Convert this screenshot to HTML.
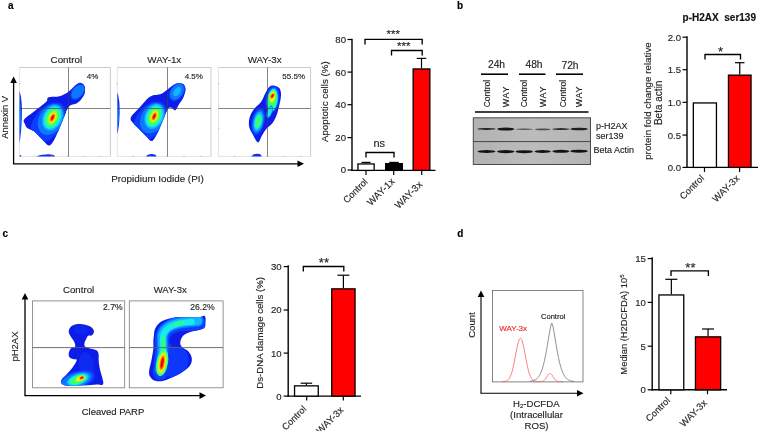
<!DOCTYPE html>
<html><head><meta charset="utf-8"><title>Figure</title>
<style>
html,body{margin:0;padding:0;background:#fff;}
body{width:758px;height:431px;overflow:hidden;font-family:"Liberation Sans",sans-serif;}
text{stroke-width:0.15px;}
svg{display:block;font-family:"Liberation Sans",sans-serif;will-change:transform;}
</style></head><body>
<svg width="758" height="431" viewBox="0 0 758 431">
<defs>
<clipPath id="c1"><path d="M24.35 119.23C26.06 117.08 31.41 113.67 35.04 110.77C38.68 107.88 43.95 104.09 46.18 101.86C48.41 99.63 46.18 98.34 48.41 97.41C50.63 96.48 56.2 97.22 59.54 96.29C62.88 95.37 65.67 93.81 68.45 91.84C71.24 89.87 74.13 85.97 76.25 84.49C78.36 83.01 79.74 82.56 81.15 82.93C82.56 83.3 84.15 84.86 84.71 86.72C85.27 88.57 85.27 91.73 84.49 94.07C83.71 96.41 81.59 99.08 80.03 100.75C78.47 102.42 76.69 103.35 75.13 104.09C73.57 104.83 71.98 104.39 70.68 105.2C69.38 106.02 68.64 106.5 67.34 108.99C66.04 111.48 64.37 116.49 62.88 120.12C61.4 123.76 59.91 127.47 58.43 130.82C56.95 134.16 55.57 137.72 53.98 140.17C52.38 142.62 50.89 145.7 48.85 145.51C46.81 145.33 44.21 141.43 41.73 139.06C39.24 136.68 36.34 133.12 33.93 131.26C31.52 129.4 28.77 129.18 27.25 127.92C25.73 126.66 25.28 125.14 24.8 123.69C24.32 122.24 22.65 121.39 24.35 119.23Z"/></clipPath>
<filter id="f2" x="-30%" y="-30%" width="160%" height="160%"><feGaussianBlur stdDeviation="0.65"/></filter>
<filter id="f3" x="-10%" y="-10%" width="120%" height="120%"><feGaussianBlur stdDeviation="0.35"/></filter>
<clipPath id="c4"><path d="M130.82 117.45C131.75 115.04 136.01 111.51 138.61 108.54C141.21 105.57 144.18 101.79 146.41 99.63C148.63 97.48 149.56 96.55 151.98 95.63C154.39 94.7 158.1 95.25 160.88 94.07C163.67 92.88 166.08 90.24 168.68 88.5C171.28 86.75 174.06 84.34 176.47 83.6C178.89 82.86 181.63 83.04 183.16 84.04C184.68 85.05 185.57 87.39 185.61 89.61C185.64 91.84 184.46 94.99 183.38 97.41C182.3 99.82 180.48 101.94 179.15 104.09C177.81 106.24 176.62 109.73 175.36 110.33C174.1 110.92 172.84 107.88 171.57 107.65C170.31 107.43 169.2 106.91 167.79 108.99C166.38 111.07 164.82 116.12 163.11 120.12C161.4 124.13 159.4 129.55 157.54 133.04C155.69 136.53 153.83 140.5 151.98 141.06C150.12 141.62 148.45 138.28 146.41 136.38C144.37 134.49 141.95 131.93 139.73 129.7C137.5 127.47 134.53 125.06 133.04 123.02C131.56 120.98 129.89 119.86 130.82 117.45Z"/></clipPath>
<filter id="f5" x="-30%" y="-30%" width="160%" height="160%"><feGaussianBlur stdDeviation="0.65"/></filter>
<filter id="f6" x="-10%" y="-10%" width="120%" height="120%"><feGaussianBlur stdDeviation="0.35"/></filter>
<clipPath id="c7"><path d="M273.02 85.6C274.76 85.71 277.92 86.46 279.26 88.05C280.59 89.65 281.07 92.14 281.04 95.18C281 98.22 279.78 102.98 279.03 106.32C278.29 109.66 277.7 112.4 276.58 115.22C275.47 118.05 274.02 121.02 272.35 123.24C270.68 125.47 268.27 126.58 266.56 128.59C264.85 130.59 263.52 132.97 262.11 135.27C260.7 137.57 259.58 142.4 258.1 142.4C256.61 142.4 254.68 137.87 253.2 135.27C251.71 132.67 249.78 129.78 249.19 126.81C248.6 123.84 248.82 120.42 249.63 117.45C250.45 114.48 252.23 111.51 254.09 108.99C255.95 106.46 258.91 104.91 260.77 102.31C262.63 99.71 263.89 95.89 265.22 93.4C266.56 90.91 267.49 88.68 268.79 87.39C270.09 86.09 271.28 85.49 273.02 85.6Z"/></clipPath>
<filter id="f8" x="-30%" y="-30%" width="160%" height="160%"><feGaussianBlur stdDeviation="0.6"/></filter>
<filter id="f9" x="-10%" y="-10%" width="120%" height="120%"><feGaussianBlur stdDeviation="0.35"/></filter>
<filter id="f10" x="-30%" y="-30%" width="160%" height="160%"><feGaussianBlur stdDeviation="0.4"/></filter>
<filter id="f11" x="-30%" y="-30%" width="160%" height="160%"><feGaussianBlur stdDeviation="0.4"/></filter>
<filter id="f12" x="-30%" y="-30%" width="160%" height="160%"><feGaussianBlur stdDeviation="0.4"/></filter>
<filter id="f13" x="-30%" y="-30%" width="160%" height="160%"><feGaussianBlur stdDeviation="0.4"/></filter>
<filter id="f14" x="-30%" y="-30%" width="160%" height="160%"><feGaussianBlur stdDeviation="0.4"/></filter>
<filter id="f15" x="-30%" y="-30%" width="160%" height="160%"><feGaussianBlur stdDeviation="0.4"/></filter>
<filter id="f16" x="-30%" y="-30%" width="160%" height="160%"><feGaussianBlur stdDeviation="0.4"/></filter>
<filter id="f17" x="-30%" y="-30%" width="160%" height="160%"><feGaussianBlur stdDeviation="0.4"/></filter>
<linearGradient id="g18" x1="0" x2="1" y1="0" y2="0"><stop offset="0" stop-color="#b2b2b2"/><stop offset="0.5" stop-color="#bcbcbc"/><stop offset="1" stop-color="#b4b4b4"/></linearGradient>
<filter id="f19" x="-20%" y="-150%" width="140%" height="400%"><feGaussianBlur stdDeviation="0.75 0.5"/></filter>
<clipPath id="c20"><path d="M68.71 331.69C68.71 330.02 69.55 327.94 70.88 326.68C72.22 325.43 74.22 324.45 76.73 324.18C79.23 323.9 83.41 324.45 85.92 325.01C88.42 325.57 90.43 326.4 91.76 327.52C93.1 328.63 93.91 330.39 93.94 331.69C93.96 333 92.88 334.67 91.93 335.37C90.98 336.07 89.23 335.23 88.26 335.87C87.28 336.51 86.72 337.96 86.08 339.21C85.44 340.46 84.55 342.13 84.41 343.39C84.27 344.64 84.16 345.84 85.25 346.73C86.33 347.62 89.15 348.18 90.93 348.73C92.71 349.29 94.69 349.29 95.94 350.07C97.19 350.85 97.97 351.46 98.45 353.41C98.92 355.36 98.5 358.98 98.78 361.76C99.06 364.55 99.37 366.47 100.12 370.12C100.87 373.76 103.85 381.25 103.29 383.65C102.73 386.04 100.09 384.21 96.78 384.48C93.46 384.76 88.42 385.12 83.41 385.32C78.4 385.51 70.38 385.99 66.71 385.65C63.03 385.32 62.14 384.37 61.36 383.31C60.58 382.26 61.14 380.81 62.03 379.31C62.92 377.8 64.95 376.24 66.71 374.29C68.46 372.34 70.88 369.98 72.55 367.61C74.22 365.24 76.59 361.49 76.73 360.09C76.87 358.7 74.56 359.68 73.39 359.26C72.22 358.84 70.49 358.56 69.71 357.59C68.93 356.61 68.52 354.94 68.71 353.41C68.91 351.88 69.82 349.51 70.88 348.4C71.94 347.29 74.5 347.84 75.06 346.73C75.62 345.62 74.92 343.39 74.22 341.72C73.53 340.05 71.8 338.38 70.88 336.71C69.96 335.04 68.71 333.36 68.71 331.69Z"/></clipPath>
<filter id="f21" x="-30%" y="-30%" width="160%" height="160%"><feGaussianBlur stdDeviation="0.6"/></filter>
<filter id="f22" x="-10%" y="-10%" width="120%" height="120%"><feGaussianBlur stdDeviation="0.35"/></filter>
<clipPath id="c23"><path d="M153.91 335.85C154.22 333.68 153.91 330.84 155.21 328.42C156.51 326.01 158.77 323.16 161.71 321.37C164.65 319.57 168.52 318.4 172.85 317.65C177.18 316.91 183.37 316.97 187.7 316.91C192.04 316.85 196.12 317.47 198.84 317.28C201.57 317.1 202.93 315.64 204.04 315.8C205.16 315.95 205.31 317.04 205.53 318.21C205.74 319.39 205.5 321.28 205.34 322.85C205.19 324.43 205.68 326.5 204.6 327.68C203.52 328.86 201.35 329.17 198.84 329.91C196.34 330.65 192.19 331.15 189.56 332.14C186.93 333.13 184.61 334.15 183.06 335.85C181.51 337.55 180.43 340.43 180.28 342.35C180.12 344.27 180.74 345.81 182.13 347.36C183.53 348.91 187.02 349.84 188.63 351.63C190.24 353.43 191.48 355.96 191.79 358.13C192.1 360.3 191.63 362.62 190.49 364.63C189.34 366.64 187.55 368.25 184.92 370.2C182.29 372.15 178.27 374.56 174.71 376.33C171.15 378.09 166.82 380.04 163.57 380.78C160.32 381.52 157.44 381.46 155.21 380.78C152.98 380.1 151.22 378.31 150.2 376.7C149.18 375.09 148.87 373.91 149.08 371.13C149.3 368.34 150.79 363.7 151.5 359.99C152.21 356.27 153.05 351.94 153.35 348.85C153.66 345.75 153.26 343.59 153.35 341.42C153.45 339.25 153.6 338.02 153.91 335.85Z"/></clipPath>
<filter id="f24" x="-30%" y="-30%" width="160%" height="160%"><feGaussianBlur stdDeviation="0.75"/></filter>
<filter id="f25" x="-10%" y="-10%" width="120%" height="120%"><feGaussianBlur stdDeviation="0.35"/></filter>
</defs>
<rect width="758" height="431" fill="#fff"/>
<text x="8" y="8.6" font-size="10" text-anchor="start" font-weight="bold" fill="#000" stroke="#000">a</text>
<path d="M19.6 67.5H110.4V156.5" fill="none" stroke="#b4b4b4" stroke-width="0.7"/>
<path d="M19.6 67.5V156.5H110.4" fill="none" stroke="#d4d4d4" stroke-width="0.6"/>
<path d="M117.3 67.5H211V156.5" fill="none" stroke="#b4b4b4" stroke-width="0.7"/>
<path d="M117.3 67.5V156.5H211" fill="none" stroke="#d4d4d4" stroke-width="0.6"/>
<path d="M218.4 67.5H310.6V156.5" fill="none" stroke="#b4b4b4" stroke-width="0.7"/>
<path d="M218.4 67.5V156.5H310.6" fill="none" stroke="#d4d4d4" stroke-width="0.6"/>
<text x="66.4" y="62.6" font-size="9.8" text-anchor="middle" font-weight="normal" fill="#262626" stroke="#262626">Control</text>
<text x="164.3" y="62.6" font-size="9.8" text-anchor="middle" font-weight="normal" fill="#262626" stroke="#262626">WAY-1x</text>
<text x="264.6" y="62.6" font-size="9.8" text-anchor="middle" font-weight="normal" fill="#262626" stroke="#262626">WAY-3x</text>
<path d="M24.35 119.23C26.06 117.08 31.41 113.67 35.04 110.77C38.68 107.88 43.95 104.09 46.18 101.86C48.41 99.63 46.18 98.34 48.41 97.41C50.63 96.48 56.2 97.22 59.54 96.29C62.88 95.37 65.67 93.81 68.45 91.84C71.24 89.87 74.13 85.97 76.25 84.49C78.36 83.01 79.74 82.56 81.15 82.93C82.56 83.3 84.15 84.86 84.71 86.72C85.27 88.57 85.27 91.73 84.49 94.07C83.71 96.41 81.59 99.08 80.03 100.75C78.47 102.42 76.69 103.35 75.13 104.09C73.57 104.83 71.98 104.39 70.68 105.2C69.38 106.02 68.64 106.5 67.34 108.99C66.04 111.48 64.37 116.49 62.88 120.12C61.4 123.76 59.91 127.47 58.43 130.82C56.95 134.16 55.57 137.72 53.98 140.17C52.38 142.62 50.89 145.7 48.85 145.51C46.81 145.33 44.21 141.43 41.73 139.06C39.24 136.68 36.34 133.12 33.93 131.26C31.52 129.4 28.77 129.18 27.25 127.92C25.73 126.66 25.28 125.14 24.8 123.69C24.32 122.24 22.65 121.39 24.35 119.23Z" fill="#0b1fe8" filter="url(#f3)"/>
<g clip-path="url(#c1)"><g filter="url(#f2)">
<ellipse cx="48" cy="122.5" rx="23" ry="14" fill="#0a3cff" transform="rotate(-52 48 122.5)"/>
<ellipse cx="51" cy="119.5" rx="16.38" ry="12.04" fill="#0a78ff" transform="rotate(-60 51 119.5)"/>
<ellipse cx="52.5" cy="117.7" rx="13.49" ry="9.71" fill="#12b4ff" transform="rotate(-65 52.5 117.7)"/>
<ellipse cx="52.5" cy="117.7" rx="11.59" ry="8.12" fill="#14ecec" transform="rotate(-65 52.5 117.7)"/>
<ellipse cx="52.5" cy="117.7" rx="9.88" ry="6.67" fill="#30ff78" transform="rotate(-65 52.5 117.7)"/>
<ellipse cx="52.5" cy="117.7" rx="7.6" ry="4.79" fill="#8cff30" transform="rotate(-65 52.5 117.7)"/>
<ellipse cx="52.5" cy="117.7" rx="5.41" ry="3.04" fill="#fff000" transform="rotate(-65 52.5 117.7)"/>
<ellipse cx="52.5" cy="117.7" rx="4.28" ry="2.17" fill="#ff9000" transform="rotate(-65 52.5 117.7)"/>
<ellipse cx="52.5" cy="117.7" rx="3.14" ry="1.42" fill="#ff2000" transform="rotate(-65 52.5 117.7)"/>
<ellipse cx="52.5" cy="117.7" rx="1.71" ry="0.73" fill="#e00000" transform="rotate(-65 52.5 117.7)"/>
<ellipse cx="77.81" cy="91.84" rx="9.5" ry="6" fill="#0a3cff" transform="rotate(-50 77.81 91.84)"/>
<ellipse cx="77.81" cy="91.84" rx="7.98" ry="4.98" fill="#0a78ff" transform="rotate(-50 77.81 91.84)"/>
</g></g>
<path d="M130.82 117.45C131.75 115.04 136.01 111.51 138.61 108.54C141.21 105.57 144.18 101.79 146.41 99.63C148.63 97.48 149.56 96.55 151.98 95.63C154.39 94.7 158.1 95.25 160.88 94.07C163.67 92.88 166.08 90.24 168.68 88.5C171.28 86.75 174.06 84.34 176.47 83.6C178.89 82.86 181.63 83.04 183.16 84.04C184.68 85.05 185.57 87.39 185.61 89.61C185.64 91.84 184.46 94.99 183.38 97.41C182.3 99.82 180.48 101.94 179.15 104.09C177.81 106.24 176.62 109.73 175.36 110.33C174.1 110.92 172.84 107.88 171.57 107.65C170.31 107.43 169.2 106.91 167.79 108.99C166.38 111.07 164.82 116.12 163.11 120.12C161.4 124.13 159.4 129.55 157.54 133.04C155.69 136.53 153.83 140.5 151.98 141.06C150.12 141.62 148.45 138.28 146.41 136.38C144.37 134.49 141.95 131.93 139.73 129.7C137.5 127.47 134.53 125.06 133.04 123.02C131.56 120.98 129.89 119.86 130.82 117.45Z" fill="#0b1fe8" filter="url(#f6)"/>
<g clip-path="url(#c4)"><g filter="url(#f5)">
<ellipse cx="150" cy="121" rx="22" ry="14" fill="#0a3cff" transform="rotate(-54 150 121)"/>
<ellipse cx="152.7" cy="118.2" rx="15.96" ry="11.62" fill="#0a78ff" transform="rotate(-62 152.7 118.2)"/>
<ellipse cx="154.2" cy="116.4" rx="13.13" ry="9.38" fill="#12b4ff" transform="rotate(-67 154.2 116.4)"/>
<ellipse cx="154.2" cy="116.4" rx="11.29" ry="7.84" fill="#14ecec" transform="rotate(-67 154.2 116.4)"/>
<ellipse cx="154.2" cy="116.4" rx="9.62" ry="6.44" fill="#30ff78" transform="rotate(-67 154.2 116.4)"/>
<ellipse cx="154.2" cy="116.4" rx="7.4" ry="4.62" fill="#8cff30" transform="rotate(-67 154.2 116.4)"/>
<ellipse cx="154.2" cy="116.4" rx="5.27" ry="2.94" fill="#fff000" transform="rotate(-67 154.2 116.4)"/>
<ellipse cx="154.2" cy="116.4" rx="4.16" ry="2.1" fill="#ff9000" transform="rotate(-67 154.2 116.4)"/>
<ellipse cx="154.2" cy="116.4" rx="3.05" ry="1.37" fill="#ff2000" transform="rotate(-67 154.2 116.4)"/>
<ellipse cx="154.2" cy="116.4" rx="1.67" ry="0.7" fill="#e00000" transform="rotate(-67 154.2 116.4)"/>
<ellipse cx="176.92" cy="91.84" rx="10.5" ry="7" fill="#0a3cff" transform="rotate(-55 176.92 91.84)"/>
<ellipse cx="176.92" cy="91.84" rx="8.82" ry="5.81" fill="#0a78ff" transform="rotate(-55 176.92 91.84)"/>
<ellipse cx="177.14" cy="91.62" rx="5.32" ry="3.08" fill="#12b4ff" transform="rotate(-55 177.14 91.62)"/>
</g></g>
<path d="M273.02 85.6C274.76 85.71 277.92 86.46 279.26 88.05C280.59 89.65 281.07 92.14 281.04 95.18C281 98.22 279.78 102.98 279.03 106.32C278.29 109.66 277.7 112.4 276.58 115.22C275.47 118.05 274.02 121.02 272.35 123.24C270.68 125.47 268.27 126.58 266.56 128.59C264.85 130.59 263.52 132.97 262.11 135.27C260.7 137.57 259.58 142.4 258.1 142.4C256.61 142.4 254.68 137.87 253.2 135.27C251.71 132.67 249.78 129.78 249.19 126.81C248.6 123.84 248.82 120.42 249.63 117.45C250.45 114.48 252.23 111.51 254.09 108.99C255.95 106.46 258.91 104.91 260.77 102.31C262.63 99.71 263.89 95.89 265.22 93.4C266.56 90.91 267.49 88.68 268.79 87.39C270.09 86.09 271.28 85.49 273.02 85.6Z" fill="#0b1fe8" filter="url(#f9)"/>
<g clip-path="url(#c7)"><g filter="url(#f8)">
<ellipse cx="272.5" cy="99.5" rx="14" ry="7" fill="#0a3cff" transform="rotate(-82 272.5 99.5)"/>
<ellipse cx="272.5" cy="99.5" rx="11.76" ry="5.81" fill="#0a78ff" transform="rotate(-82 272.5 99.5)"/>
<ellipse cx="272.5" cy="99.5" rx="9.94" ry="4.69" fill="#12b4ff" transform="rotate(-82 272.5 99.5)"/>
<ellipse cx="272.3" cy="100.3" rx="11.59" ry="5.32" fill="#14ecec" transform="rotate(-82 272.3 100.3)"/>
<ellipse cx="272.3" cy="100.3" rx="9.88" ry="4.37" fill="#30ff78" transform="rotate(-82 272.3 100.3)"/>
<ellipse cx="272.5" cy="96.8" rx="6.4" ry="3.47" fill="#8cff30" transform="rotate(-80 272.5 96.8)"/>
<ellipse cx="272.5" cy="96.8" rx="4.56" ry="2.21" fill="#fff000" transform="rotate(-80 272.5 96.8)"/>
<ellipse cx="272.4" cy="95.9" rx="2.93" ry="1.8" fill="#ff9000" transform="rotate(-60 272.4 95.9)"/>
<ellipse cx="272.4" cy="95.9" rx="2.15" ry="1.18" fill="#ff2000" transform="rotate(-60 272.4 95.9)"/>
<ellipse cx="272.4" cy="95.9" rx="1.17" ry="0.6" fill="#e00000" transform="rotate(-60 272.4 95.9)"/>
<ellipse cx="258.2" cy="121.5" rx="14" ry="6.5" fill="#0a3cff" transform="rotate(-78 258.2 121.5)"/>
<ellipse cx="258.2" cy="121.5" rx="11.76" ry="5.39" fill="#0a78ff" transform="rotate(-78 258.2 121.5)"/>
<ellipse cx="258.2" cy="121.5" rx="9.94" ry="4.36" fill="#12b4ff" transform="rotate(-78 258.2 121.5)"/>
<ellipse cx="258.2" cy="121.5" rx="7.62" ry="3.53" fill="#14ecec" transform="rotate(-78 258.2 121.5)"/>
<ellipse cx="258.2" cy="121.5" rx="6.5" ry="2.9" fill="#30ff78" transform="rotate(-78 258.2 121.5)"/>
<ellipse cx="269.5" cy="112" rx="6.72" ry="2.66" fill="#0a78ff" transform="rotate(-72 269.5 112)"/>
<ellipse cx="269.5" cy="112" rx="5.68" ry="2.14" fill="#12b4ff" transform="rotate(-72 269.5 112)"/>
<ellipse cx="269.5" cy="112" rx="4.88" ry="1.79" fill="#14ecec" transform="rotate(-72 269.5 112)"/>
</g></g>
<path d="M19.5 90.5Q22.4 100 21.9 116T19.5 143.5Z" fill="#1030f0" filter="url(#f10)"/>
<path d="M19.5 100Q20.9 108 20.7 118T19.5 134Z" fill="#20a0ff" filter="url(#f11)"/>
<path d="M19.6 155.2h1.6v1.3h-1.6Z" fill="#1030f0" filter="url(#f12)"/>
<path d="M117.3 92Q120.1 100 119.6 114T117.3 134Z" fill="#1030f0" filter="url(#f13)"/>
<path d="M117.3 100Q118.7 108 118.5 116T117.3 128Z" fill="#20a0ff" filter="url(#f14)"/>
<path d="M36.5 156.6Q38 154.8 46 154.4T55 156.6Z" fill="#1030f0" filter="url(#f15)"/>
<path d="M146 156.6Q147 154.2 151.5 154T156.5 156.6Z" fill="#1030f0" filter="url(#f16)"/>
<path d="M251.5 156.6Q252.5 154 257 153.8T261.5 156.6Z" fill="#1030f0" filter="url(#f17)"/>
<line x1="19" y1="83.6" x2="20.5" y2="83.6" stroke="#aaa" stroke-width="0.6"/>
<line x1="19" y1="105.9" x2="20.5" y2="105.9" stroke="#aaa" stroke-width="0.6"/>
<line x1="19" y1="128.2" x2="20.5" y2="128.2" stroke="#aaa" stroke-width="0.6"/>
<line x1="35.25" y1="156.5" x2="35.25" y2="155.3" stroke="#aaa" stroke-width="0.6"/>
<line x1="51.5" y1="156.5" x2="51.5" y2="155.3" stroke="#aaa" stroke-width="0.6"/>
<line x1="67.75" y1="156.5" x2="67.75" y2="155.3" stroke="#aaa" stroke-width="0.6"/>
<line x1="84" y1="156.5" x2="84" y2="155.3" stroke="#aaa" stroke-width="0.6"/>
<line x1="100.25" y1="156.5" x2="100.25" y2="155.3" stroke="#aaa" stroke-width="0.6"/>
<line x1="116.5" y1="83.6" x2="118" y2="83.6" stroke="#aaa" stroke-width="0.6"/>
<line x1="116.5" y1="105.9" x2="118" y2="105.9" stroke="#aaa" stroke-width="0.6"/>
<line x1="116.5" y1="128.2" x2="118" y2="128.2" stroke="#aaa" stroke-width="0.6"/>
<line x1="133.38" y1="156.5" x2="133.38" y2="155.3" stroke="#aaa" stroke-width="0.6"/>
<line x1="150.25" y1="156.5" x2="150.25" y2="155.3" stroke="#aaa" stroke-width="0.6"/>
<line x1="167.12" y1="156.5" x2="167.12" y2="155.3" stroke="#aaa" stroke-width="0.6"/>
<line x1="184" y1="156.5" x2="184" y2="155.3" stroke="#aaa" stroke-width="0.6"/>
<line x1="200.88" y1="156.5" x2="200.88" y2="155.3" stroke="#aaa" stroke-width="0.6"/>
<line x1="218" y1="83.6" x2="219.5" y2="83.6" stroke="#aaa" stroke-width="0.6"/>
<line x1="218" y1="105.9" x2="219.5" y2="105.9" stroke="#aaa" stroke-width="0.6"/>
<line x1="218" y1="128.2" x2="219.5" y2="128.2" stroke="#aaa" stroke-width="0.6"/>
<line x1="234.52" y1="156.5" x2="234.52" y2="155.3" stroke="#aaa" stroke-width="0.6"/>
<line x1="251.04" y1="156.5" x2="251.04" y2="155.3" stroke="#aaa" stroke-width="0.6"/>
<line x1="267.55" y1="156.5" x2="267.55" y2="155.3" stroke="#aaa" stroke-width="0.6"/>
<line x1="284.07" y1="156.5" x2="284.07" y2="155.3" stroke="#aaa" stroke-width="0.6"/>
<line x1="300.59" y1="156.5" x2="300.59" y2="155.3" stroke="#aaa" stroke-width="0.6"/>
<line x1="68.5" y1="67.5" x2="68.5" y2="156.5" stroke="#404040" stroke-width="0.65"/>
<line x1="19.6" y1="108.5" x2="110.4" y2="108.5" stroke="#404040" stroke-width="0.65"/>
<line x1="167.5" y1="67.5" x2="167.5" y2="156.5" stroke="#404040" stroke-width="0.65"/>
<line x1="117.3" y1="108.5" x2="211" y2="108.5" stroke="#404040" stroke-width="0.65"/>
<line x1="267.5" y1="67.5" x2="267.5" y2="156.5" stroke="#404040" stroke-width="0.65"/>
<line x1="218.4" y1="108.5" x2="310.6" y2="108.5" stroke="#404040" stroke-width="0.65"/>
<text x="98.4" y="79" font-size="8" text-anchor="end" font-weight="normal" fill="#262626" stroke="#262626">4%</text>
<text x="202.9" y="79" font-size="8" text-anchor="end" font-weight="normal" fill="#262626" stroke="#262626">4.5%</text>
<text x="305" y="79" font-size="8" text-anchor="end" font-weight="normal" fill="#262626" stroke="#262626">55.5%</text>
<line x1="13.6" y1="163.9" x2="13.6" y2="80.5" stroke="#000" stroke-width="1.3"/>
<path d="M10.3 83L13.6 76.5L16.9 83Z" fill="#000" stroke="none" stroke-width="1"/>
<line x1="13" y1="163.8" x2="300" y2="163.8" stroke="#000" stroke-width="1.3"/>
<path d="M297.5 160.5L304 163.8L297.5 167.1Z" fill="#000" stroke="none" stroke-width="1"/>
<text x="7.7" y="117.3" font-size="9.4" text-anchor="middle" font-weight="normal" fill="#262626" stroke="#262626" transform="rotate(-90 7.7 117.3)">Annexin V</text>
<text x="157.5" y="181.9" font-size="9.85" text-anchor="middle" font-weight="normal" fill="#262626" stroke="#262626">Propidium Iodide (PI)</text>
<line x1="352" y1="38.8" x2="352" y2="171.1" stroke="#000" stroke-width="1.4"/>
<line x1="351.3" y1="170.4" x2="435.5" y2="170.4" stroke="#000" stroke-width="1.4"/>
<line x1="347.5" y1="170" x2="352" y2="170" stroke="#000" stroke-width="1.2"/>
<text x="346" y="173.4" font-size="9.6" text-anchor="end" font-weight="normal" fill="#262626" stroke="#262626">0</text>
<line x1="347.5" y1="137.6" x2="352" y2="137.6" stroke="#000" stroke-width="1.2"/>
<text x="346" y="141" font-size="9.6" text-anchor="end" font-weight="normal" fill="#262626" stroke="#262626">20</text>
<line x1="347.5" y1="104.7" x2="352" y2="104.7" stroke="#000" stroke-width="1.2"/>
<text x="346" y="108.1" font-size="9.6" text-anchor="end" font-weight="normal" fill="#262626" stroke="#262626">40</text>
<line x1="347.5" y1="72.1" x2="352" y2="72.1" stroke="#000" stroke-width="1.2"/>
<text x="346" y="75.5" font-size="9.6" text-anchor="end" font-weight="normal" fill="#262626" stroke="#262626">60</text>
<line x1="347.5" y1="39.5" x2="352" y2="39.5" stroke="#000" stroke-width="1.2"/>
<text x="346" y="42.9" font-size="9.6" text-anchor="end" font-weight="normal" fill="#262626" stroke="#262626">80</text>
<line x1="366.05" y1="163.3" x2="366.05" y2="162.4" stroke="#000" stroke-width="1.2"/>
<line x1="361.55" y1="162.4" x2="370.55" y2="162.4" stroke="#000" stroke-width="1.2"/>
<rect x="357.95" y="163.95" width="16.2" height="6.45" fill="#fff" stroke="#000" stroke-width="1.3"/>
<line x1="394" y1="163" x2="394" y2="162.4" stroke="#000" stroke-width="1.2"/>
<line x1="389.25" y1="162.4" x2="398.75" y2="162.4" stroke="#000" stroke-width="1.2"/>
<rect x="385.65" y="163.65" width="16.7" height="6.75" fill="#000" stroke="#000" stroke-width="1.3"/>
<line x1="421.5" y1="68.3" x2="421.5" y2="58.4" stroke="#000" stroke-width="1.2"/>
<line x1="416.75" y1="58.4" x2="426.25" y2="58.4" stroke="#000" stroke-width="1.2"/>
<rect x="413.15" y="68.95" width="16.7" height="101.45" fill="#ff0000" stroke="#000" stroke-width="1.3"/>
<line x1="366" y1="170.4" x2="366" y2="174.9" stroke="#000" stroke-width="1.2"/>
<line x1="393.7" y1="170.4" x2="393.7" y2="174.9" stroke="#000" stroke-width="1.2"/>
<line x1="421.7" y1="170.4" x2="421.7" y2="174.9" stroke="#000" stroke-width="1.2"/>
<path d="M365 44.4V39.4H422.2V44.4" fill="none" stroke="#000" stroke-width="1.35"/>
<path d="M391.5 55.5V50.5H422.2V55.5" fill="none" stroke="#000" stroke-width="1.35"/>
<path d="M366 157.5V152.5H394V157.5" fill="none" stroke="#000" stroke-width="1.35"/>
<text x="393.2" y="38.2" font-size="11.5" text-anchor="middle" font-weight="normal" fill="#262626" stroke="#262626">***</text>
<text x="403.7" y="50" font-size="11.5" text-anchor="middle" font-weight="normal" fill="#262626" stroke="#262626">***</text>
<text x="379.3" y="147" font-size="11" text-anchor="middle" font-weight="normal" fill="#262626" stroke="#262626">ns</text>
<text x="368.3" y="182.4" font-size="9.4" text-anchor="end" font-weight="normal" fill="#262626" stroke="#262626" transform="rotate(-45 368.3 182.4)">Control</text>
<text x="395.3" y="182" font-size="9.7" text-anchor="end" font-weight="normal" fill="#262626" stroke="#262626" transform="rotate(-45 395.3 182)" letter-spacing="0.12">WAY-1x</text>
<text x="423" y="185" font-size="9.7" text-anchor="end" font-weight="normal" fill="#262626" stroke="#262626" transform="rotate(-45 423 185)" letter-spacing="0.12">WAY-3x</text>
<text x="328" y="101.7" font-size="9.75" text-anchor="middle" font-weight="normal" fill="#262626" stroke="#262626" transform="rotate(-90 328 101.7)">Apoptotic cells (%)</text>
<text x="457" y="8.5" font-size="10" text-anchor="start" font-weight="bold" fill="#000" stroke="#000">b</text>
<text x="496.5" y="67.7" font-size="10.3" text-anchor="middle" font-weight="normal" fill="#262626" stroke="#262626">24h</text>
<line x1="481" y1="74.2" x2="508" y2="74.2" stroke="#000" stroke-width="1.55"/>
<text x="534" y="67.7" font-size="10.3" text-anchor="middle" font-weight="normal" fill="#262626" stroke="#262626">48h</text>
<line x1="519" y1="74.2" x2="545.5" y2="74.2" stroke="#000" stroke-width="1.55"/>
<text x="570" y="68.6" font-size="10.3" text-anchor="middle" font-weight="normal" fill="#262626" stroke="#262626">72h</text>
<line x1="556" y1="74.2" x2="583" y2="74.2" stroke="#000" stroke-width="1.55"/>
<text x="490.2" y="107.3" font-size="8.5" text-anchor="start" font-weight="normal" fill="#262626" stroke="#262626" transform="rotate(-90 490.2 107.3)">Control</text>
<text x="509.2" y="107.3" font-size="9" text-anchor="start" font-weight="normal" fill="#262626" stroke="#262626" transform="rotate(-90 509.2 107.3)" letter-spacing="0.7">WAY</text>
<text x="527" y="107.3" font-size="8.5" text-anchor="start" font-weight="normal" fill="#262626" stroke="#262626" transform="rotate(-90 527 107.3)">Control</text>
<text x="546.2" y="107.3" font-size="9" text-anchor="start" font-weight="normal" fill="#262626" stroke="#262626" transform="rotate(-90 546.2 107.3)" letter-spacing="0.7">WAY</text>
<text x="566" y="107.3" font-size="8.5" text-anchor="start" font-weight="normal" fill="#262626" stroke="#262626" transform="rotate(-90 566 107.3)">Control</text>
<text x="581.8" y="107.3" font-size="9" text-anchor="start" font-weight="normal" fill="#262626" stroke="#262626" transform="rotate(-90 581.8 107.3)" letter-spacing="0.7">WAY</text>
<line x1="475" y1="112" x2="588.5" y2="112" stroke="#000" stroke-width="1.5"/>
<rect x="473.3" y="117.8" width="117.2" height="23.8" fill="url(#g18)" stroke="#4a4a4a" stroke-width="1"/>
<rect x="473.3" y="141.6" width="117.2" height="22.9" fill="url(#g18)" stroke="#4a4a4a" stroke-width="1"/>
<g filter="url(#f19)">
<ellipse cx="486.5" cy="128.9" rx="9" ry="1" fill="#141414" opacity="0.9"/>
<ellipse cx="505.75" cy="129.1" rx="8.75" ry="1.5" fill="#141414" opacity="1.0"/>
<ellipse cx="524.25" cy="129.2" rx="8.75" ry="0.7" fill="#141414" opacity="0.55"/>
<ellipse cx="542.65" cy="129.3" rx="8.15" ry="0.9" fill="#141414" opacity="0.65"/>
<ellipse cx="560.9" cy="129.1" rx="8.6" ry="1" fill="#141414" opacity="0.85"/>
<ellipse cx="579.05" cy="129" rx="8.75" ry="1.25" fill="#141414" opacity="0.95"/>
<ellipse cx="486.5" cy="151.5" rx="9" ry="1.55" fill="#0c0c0c" opacity="0.97"/>
<ellipse cx="505.75" cy="151.6" rx="8.75" ry="1.55" fill="#0c0c0c" opacity="0.97"/>
<ellipse cx="524.25" cy="151.7" rx="8.75" ry="1.55" fill="#0c0c0c" opacity="0.97"/>
<ellipse cx="542.65" cy="151.5" rx="8.15" ry="1.55" fill="#0c0c0c" opacity="0.97"/>
<ellipse cx="560.9" cy="151.3" rx="8.6" ry="1.55" fill="#0c0c0c" opacity="0.97"/>
<ellipse cx="579.05" cy="151.2" rx="8.75" ry="1.55" fill="#0c0c0c" opacity="0.97"/>
</g>
<text x="596" y="128.8" font-size="9" text-anchor="start" font-weight="normal" fill="#262626" stroke="#262626">p-H2AX</text>
<text x="596" y="138.6" font-size="9" text-anchor="start" font-weight="normal" fill="#262626" stroke="#262626">ser139</text>
<text x="593.5" y="153" font-size="9" text-anchor="start" font-weight="normal" fill="#262626" stroke="#262626">Beta Actin</text>
<text x="719.3" y="20.6" font-size="10" text-anchor="middle" font-weight="bold" fill="#111" stroke="#111">p-H2AX&#160;&#160;ser139</text>
<line x1="687" y1="36.3" x2="687" y2="168.1" stroke="#000" stroke-width="1.4"/>
<line x1="686.3" y1="167.4" x2="758" y2="167.4" stroke="#000" stroke-width="1.4"/>
<line x1="682.5" y1="167.4" x2="687" y2="167.4" stroke="#000" stroke-width="1.2"/>
<text x="681" y="170.8" font-size="9.6" text-anchor="end" font-weight="normal" fill="#262626" stroke="#262626">0.0</text>
<line x1="682.5" y1="135.1" x2="687" y2="135.1" stroke="#000" stroke-width="1.2"/>
<text x="681" y="138.5" font-size="9.6" text-anchor="end" font-weight="normal" fill="#262626" stroke="#262626">0.5</text>
<line x1="682.5" y1="102.3" x2="687" y2="102.3" stroke="#000" stroke-width="1.2"/>
<text x="681" y="105.7" font-size="9.6" text-anchor="end" font-weight="normal" fill="#262626" stroke="#262626">1.0</text>
<line x1="682.5" y1="69.7" x2="687" y2="69.7" stroke="#000" stroke-width="1.2"/>
<text x="681" y="73.1" font-size="9.6" text-anchor="end" font-weight="normal" fill="#262626" stroke="#262626">1.5</text>
<line x1="682.5" y1="37.2" x2="687" y2="37.2" stroke="#000" stroke-width="1.2"/>
<text x="681" y="40.6" font-size="9.6" text-anchor="end" font-weight="normal" fill="#262626" stroke="#262626">2.0</text>
<rect x="693.35" y="102.95" width="23.1" height="64.45" fill="#fff" stroke="#000" stroke-width="1.3"/>
<line x1="739.75" y1="74.5" x2="739.75" y2="62.7" stroke="#000" stroke-width="1.2"/>
<line x1="735" y1="62.7" x2="744.5" y2="62.7" stroke="#000" stroke-width="1.2"/>
<rect x="728.45" y="75.15" width="22.6" height="92.25" fill="#ff0000" stroke="#000" stroke-width="1.3"/>
<line x1="704.5" y1="167.4" x2="704.5" y2="171.9" stroke="#000" stroke-width="1.2"/>
<line x1="739.6" y1="167.4" x2="739.6" y2="171.9" stroke="#000" stroke-width="1.2"/>
<path d="M705 59.5V54.5H740.5V59.5" fill="none" stroke="#000" stroke-width="1.35"/>
<text x="720.6" y="55.8" font-size="13" text-anchor="middle" font-weight="normal" fill="#262626" stroke="#262626">*</text>
<text x="704.7" y="178.8" font-size="9.3" text-anchor="end" font-weight="normal" fill="#262626" stroke="#262626" transform="rotate(-45 704.7 178.8)">Control</text>
<text x="740.2" y="178.8" font-size="9.6" text-anchor="end" font-weight="normal" fill="#262626" stroke="#262626" transform="rotate(-45 740.2 178.8)" letter-spacing="0.12">WAY-3x</text>
<text x="651.3" y="101" font-size="9.8" text-anchor="middle" font-weight="normal" fill="#262626" stroke="#262626" transform="rotate(-90 651.3 101)">protein fold change relative</text>
<text x="662" y="102.8" font-size="10" text-anchor="middle" font-weight="normal" fill="#262626" stroke="#262626" transform="rotate(-90 662 102.8)">Beta actin</text>
<text x="2.5" y="236.9" font-size="10" text-anchor="start" font-weight="bold" fill="#000" stroke="#000">c</text>
<text x="78.6" y="293" font-size="9.7" text-anchor="middle" font-weight="normal" fill="#262626" stroke="#262626">Control</text>
<text x="170.2" y="293" font-size="9.55" text-anchor="middle" font-weight="normal" fill="#262626" stroke="#262626">WAY-3x</text>
<rect x="32.6" y="300.9" width="92.1" height="86.9" fill="none" stroke="#7a7a7a" stroke-width="0.8"/>
<rect x="129.3" y="300.9" width="93.8" height="86.9" fill="none" stroke="#7a7a7a" stroke-width="0.8"/>
<path d="M68.71 331.69C68.71 330.02 69.55 327.94 70.88 326.68C72.22 325.43 74.22 324.45 76.73 324.18C79.23 323.9 83.41 324.45 85.92 325.01C88.42 325.57 90.43 326.4 91.76 327.52C93.1 328.63 93.91 330.39 93.94 331.69C93.96 333 92.88 334.67 91.93 335.37C90.98 336.07 89.23 335.23 88.26 335.87C87.28 336.51 86.72 337.96 86.08 339.21C85.44 340.46 84.55 342.13 84.41 343.39C84.27 344.64 84.16 345.84 85.25 346.73C86.33 347.62 89.15 348.18 90.93 348.73C92.71 349.29 94.69 349.29 95.94 350.07C97.19 350.85 97.97 351.46 98.45 353.41C98.92 355.36 98.5 358.98 98.78 361.76C99.06 364.55 99.37 366.47 100.12 370.12C100.87 373.76 103.85 381.25 103.29 383.65C102.73 386.04 100.09 384.21 96.78 384.48C93.46 384.76 88.42 385.12 83.41 385.32C78.4 385.51 70.38 385.99 66.71 385.65C63.03 385.32 62.14 384.37 61.36 383.31C60.58 382.26 61.14 380.81 62.03 379.31C62.92 377.8 64.95 376.24 66.71 374.29C68.46 372.34 70.88 369.98 72.55 367.61C74.22 365.24 76.59 361.49 76.73 360.09C76.87 358.7 74.56 359.68 73.39 359.26C72.22 358.84 70.49 358.56 69.71 357.59C68.93 356.61 68.52 354.94 68.71 353.41C68.91 351.88 69.82 349.51 70.88 348.4C71.94 347.29 74.5 347.84 75.06 346.73C75.62 345.62 74.92 343.39 74.22 341.72C73.53 340.05 71.8 338.38 70.88 336.71C69.96 335.04 68.71 333.36 68.71 331.69Z" fill="#0b1fe8" filter="url(#f22)"/>
<g clip-path="url(#c20)"><g filter="url(#f21)">
<ellipse cx="86.5" cy="366" rx="7.5" ry="14" fill="#0a2cf0" transform="rotate(-8 86.5 366)"/>
<ellipse cx="81" cy="330" rx="7" ry="4.5" fill="#0a28ee"/>
<ellipse cx="76.5" cy="380.3" rx="19" ry="9" fill="#0a3cff" transform="rotate(-18 76.5 380.3)"/>
<ellipse cx="76.5" cy="380.3" rx="15.96" ry="7.47" fill="#0a78ff" transform="rotate(-18 76.5 380.3)"/>
<ellipse cx="78" cy="379.6" rx="11.71" ry="5.7" fill="#12b4ff" transform="rotate(-20 78 379.6)"/>
<ellipse cx="78" cy="379.6" rx="10.06" ry="4.76" fill="#14ecec" transform="rotate(-20 78 379.6)"/>
<ellipse cx="78" cy="379.6" rx="8.58" ry="3.91" fill="#30ff78" transform="rotate(-20 78 379.6)"/>
<ellipse cx="80.3" cy="378.6" rx="5.6" ry="2.97" fill="#8cff30" transform="rotate(-22 80.3 378.6)"/>
<ellipse cx="80.3" cy="378.6" rx="3.99" ry="1.89" fill="#fff000" transform="rotate(-22 80.3 378.6)"/>
<ellipse cx="81.7" cy="377.8" rx="2.59" ry="1.57" fill="#ff9000" transform="rotate(-25 81.7 377.8)"/>
<ellipse cx="81.7" cy="377.8" rx="1.9" ry="1.03" fill="#ff2000" transform="rotate(-25 81.7 377.8)"/>
<ellipse cx="81.7" cy="377.8" rx="1.03" ry="0.53" fill="#e00000" transform="rotate(-25 81.7 377.8)"/>
</g></g>
<path d="M153.91 335.85C154.22 333.68 153.91 330.84 155.21 328.42C156.51 326.01 158.77 323.16 161.71 321.37C164.65 319.57 168.52 318.4 172.85 317.65C177.18 316.91 183.37 316.97 187.7 316.91C192.04 316.85 196.12 317.47 198.84 317.28C201.57 317.1 202.93 315.64 204.04 315.8C205.16 315.95 205.31 317.04 205.53 318.21C205.74 319.39 205.5 321.28 205.34 322.85C205.19 324.43 205.68 326.5 204.6 327.68C203.52 328.86 201.35 329.17 198.84 329.91C196.34 330.65 192.19 331.15 189.56 332.14C186.93 333.13 184.61 334.15 183.06 335.85C181.51 337.55 180.43 340.43 180.28 342.35C180.12 344.27 180.74 345.81 182.13 347.36C183.53 348.91 187.02 349.84 188.63 351.63C190.24 353.43 191.48 355.96 191.79 358.13C192.1 360.3 191.63 362.62 190.49 364.63C189.34 366.64 187.55 368.25 184.92 370.2C182.29 372.15 178.27 374.56 174.71 376.33C171.15 378.09 166.82 380.04 163.57 380.78C160.32 381.52 157.44 381.46 155.21 380.78C152.98 380.1 151.22 378.31 150.2 376.7C149.18 375.09 148.87 373.91 149.08 371.13C149.3 368.34 150.79 363.7 151.5 359.99C152.21 356.27 153.05 351.94 153.35 348.85C153.66 345.75 153.26 343.59 153.35 341.42C153.45 339.25 153.6 338.02 153.91 335.85Z" fill="#0b1fe8" filter="url(#f25)"/>
<g clip-path="url(#c23)"><g filter="url(#f24)">
<ellipse cx="163.75" cy="360.59" rx="19" ry="9.5" fill="#0a3cff" transform="rotate(-80 163.75 360.59)"/>
<ellipse cx="163.75" cy="360.59" rx="15.96" ry="7.88" fill="#0a78ff" transform="rotate(-80 163.75 360.59)"/>
<path d="M160.41 372.84C160.7 369.31 161.82 357.8 162.19 351.68C162.56 345.55 161.45 340.1 162.63 336.09C163.82 332.08 166.35 329.67 169.32 327.63C172.29 325.58 175.63 324.58 180.45 323.84C185.28 323.1 195.3 323.28 198.27 323.17" fill="none" stroke="#0a3cff" stroke-width="15" stroke-linecap="round"/>
<ellipse cx="175" cy="362" rx="13" ry="16" fill="#0a38fa" transform="rotate(20 175 362)"/>
<path d="M160.41 369.5C160.78 366.53 162.26 357.43 162.63 351.68C163.01 345.93 161.71 339.06 162.63 334.98C163.56 330.89 165.23 329.22 168.2 327.18C171.17 325.14 175.52 323.77 180.45 322.73C185.39 321.69 194.93 321.24 197.82 320.94" fill="none" stroke="#0a78ff" stroke-width="11.5" stroke-linecap="round"/>
<path d="M160.41 369.5C160.78 366.53 162.26 357.43 162.63 351.68C163.01 345.93 161.71 339.06 162.63 334.98C163.56 330.89 165.23 329.22 168.2 327.18C171.17 325.14 175.52 323.77 180.45 322.73C185.39 321.69 194.93 321.24 197.82 320.94" fill="none" stroke="#12b4ff" stroke-width="8.6" stroke-linecap="round"/>
<path d="M161.52 369.5C161.78 366.53 162.82 357.25 163.08 351.68C163.34 346.11 162.23 339.99 163.08 336.09C163.93 332.19 165.49 330.41 168.2 328.29C170.91 326.18 175.37 324.47 179.34 323.39C183.31 322.32 189.92 322.1 192.03 321.84" fill="none" stroke="#14ecec" stroke-width="5.8" stroke-linecap="round"/>
<path d="M162.19 367.27C162.37 364.67 163.12 356.5 163.3 351.68C163.49 346.85 163.3 340.54 163.3 338.32" fill="none" stroke="#30ff78" stroke-width="3.6" stroke-linecap="round"/>
<path d="M174.88 324.51C176.18 324.14 181.38 322.65 182.68 322.28" fill="none" stroke="#30ff78" stroke-width="2.8" stroke-linecap="round"/>
<ellipse cx="162.19" cy="362.82" rx="13.5" ry="5.8" fill="#3cff8c" transform="rotate(-80 162.19 362.82)"/>
<ellipse cx="162.19" cy="362.82" rx="11" ry="4.3" fill="#b4ff28" transform="rotate(-80 162.19 362.82)"/>
<ellipse cx="162.19" cy="362.82" rx="9.3" ry="3.3" fill="#ffe600" transform="rotate(-80 162.19 362.82)"/>
<ellipse cx="162.19" cy="362.82" rx="7.6" ry="2.4" fill="#ff8c00" transform="rotate(-80 162.19 362.82)"/>
<ellipse cx="162.19" cy="362.82" rx="6" ry="1.55" fill="#ff1e00" transform="rotate(-80 162.19 362.82)"/>
<ellipse cx="162.19" cy="362.82" rx="4.5" ry="0.9" fill="#e60000" transform="rotate(-80 162.19 362.82)"/>
</g></g>
<line x1="32.6" y1="347.6" x2="124.8" y2="347.6" stroke="#606060" stroke-width="0.9"/>
<line x1="129.3" y1="347.6" x2="223.1" y2="347.6" stroke="#606060" stroke-width="0.9"/>
<text x="122.7" y="310.3" font-size="8.6" text-anchor="end" font-weight="normal" fill="#262626" stroke="#262626">2.7%</text>
<text x="214.6" y="310.3" font-size="8.6" text-anchor="end" font-weight="normal" fill="#262626" stroke="#262626">26.2%</text>
<line x1="25" y1="395.6" x2="25" y2="297" stroke="#000" stroke-width="1.3"/>
<path d="M21.7 299.5L25 293L28.3 299.5Z" fill="#000" stroke="none" stroke-width="1"/>
<line x1="24.4" y1="395.6" x2="202" y2="395.6" stroke="#000" stroke-width="1.3"/>
<path d="M199.5 392.3L206 395.6L199.5 398.9Z" fill="#000" stroke="none" stroke-width="1"/>
<text x="17.6" y="346.5" font-size="9.5" text-anchor="middle" font-weight="normal" fill="#262626" stroke="#262626" transform="rotate(-90 17.6 346.5)">pH2AX</text>
<text x="113" y="415.2" font-size="9.5" text-anchor="middle" font-weight="normal" fill="#262626" stroke="#262626">Cleaved PARP</text>
<line x1="288.2" y1="265.3" x2="288.2" y2="396.8" stroke="#000" stroke-width="1.4"/>
<line x1="287.5" y1="396.1" x2="361" y2="396.1" stroke="#000" stroke-width="1.4"/>
<line x1="283.7" y1="396.1" x2="288.2" y2="396.1" stroke="#000" stroke-width="1.2"/>
<text x="281.7" y="399.5" font-size="9.6" text-anchor="end" font-weight="normal" fill="#262626" stroke="#262626">0</text>
<line x1="283.7" y1="353.1" x2="288.2" y2="353.1" stroke="#000" stroke-width="1.2"/>
<text x="281.7" y="356.5" font-size="9.6" text-anchor="end" font-weight="normal" fill="#262626" stroke="#262626">10</text>
<line x1="283.7" y1="310" x2="288.2" y2="310" stroke="#000" stroke-width="1.2"/>
<text x="281.7" y="313.4" font-size="9.6" text-anchor="end" font-weight="normal" fill="#262626" stroke="#262626">20</text>
<line x1="283.7" y1="266.6" x2="288.2" y2="266.6" stroke="#000" stroke-width="1.2"/>
<text x="281.7" y="270" font-size="9.6" text-anchor="end" font-weight="normal" fill="#262626" stroke="#262626">30</text>
<line x1="306.4" y1="385.2" x2="306.4" y2="383.2" stroke="#000" stroke-width="1.2"/>
<line x1="300.65" y1="383.2" x2="312.15" y2="383.2" stroke="#000" stroke-width="1.2"/>
<rect x="294.55" y="385.85" width="23.7" height="10.25" fill="#fff" stroke="#000" stroke-width="1.3"/>
<line x1="343.4" y1="288.2" x2="343.4" y2="275.2" stroke="#000" stroke-width="1.2"/>
<line x1="337.4" y1="275.2" x2="349.4" y2="275.2" stroke="#000" stroke-width="1.2"/>
<rect x="331.75" y="288.85" width="23.3" height="107.25" fill="#ff0000" stroke="#000" stroke-width="1.3"/>
<line x1="306.7" y1="396.1" x2="306.7" y2="400.6" stroke="#000" stroke-width="1.2"/>
<line x1="343.3" y1="396.1" x2="343.3" y2="400.6" stroke="#000" stroke-width="1.2"/>
<path d="M303.3 271.5V266.5H343.8V271.5" fill="none" stroke="#000" stroke-width="1.35"/>
<text x="323.9" y="267" font-size="13" text-anchor="middle" font-weight="normal" fill="#262626" stroke="#262626">**</text>
<text x="307" y="409.6" font-size="9.3" text-anchor="end" font-weight="normal" fill="#262626" stroke="#262626" transform="rotate(-45 307 409.6)">Control</text>
<text x="344.3" y="410.6" font-size="9.6" text-anchor="end" font-weight="normal" fill="#262626" stroke="#262626" transform="rotate(-45 344.3 410.6)" letter-spacing="0.12">WAY-3x</text>
<text x="263" y="332.8" font-size="9.65" text-anchor="middle" font-weight="normal" fill="#262626" stroke="#262626" transform="rotate(-90 263 332.8)">Ds-DNA damage cells (%)</text>
<text x="457.3" y="236.9" font-size="10" text-anchor="start" font-weight="bold" fill="#000" stroke="#000">d</text>
<rect x="492.5" y="290.5" width="90.5" height="91.4" fill="none" stroke="#666" stroke-width="0.8"/>
<path d="M502 381.56L502.5 381.55L503 381.52L503.5 381.49L504 381.45L504.5 381.39L505 381.3L505.5 381.19L506 381.04L506.5 380.85L507 380.6L507.5 380.28L508 379.88L508.5 379.38L509 378.77L509.5 378.02L510 377.12L510.5 376.06L511 374.82L511.5 373.38L512 371.74L512.5 369.9L513 367.86L513.5 365.63L514 363.24L514.5 360.71L515 358.08L515.5 355.39L516 352.7L516.5 350.07L517 347.56L517.5 345.23L518 343.15L518.5 341.37L519 339.95L519.5 338.93L520 338.35L520.5 338.21L521 338.53L521.5 339.29L522 340.47L522.5 342.04L523 343.94L523.5 346.13L524 348.54L524.5 351.11L525 353.77L525.5 356.47L526 359.14L526.5 361.74L527 364.22L527.5 366.55L528 368.7L528.5 370.66L529 372.42L529.5 373.98L530 375.34L530.5 376.51L531 377.5L531.5 378.34L532 379.03L532.5 379.6L533 380.05L533.5 380.42L534 380.71L534.5 380.93L535 381.11L535.5 381.24L536 381.34L536.5 381.41L537 381.47L537.5 381.5L538 381.53L538.5 381.55L539 381.56L539.5 381.56L540 381.55L540.5 381.53L541 381.49L541.5 381.43L542 381.34L542.5 381.21L543 381.02L543.5 380.76L544 380.43L544.5 380L545 379.48L545.5 378.86L546 378.15L546.5 377.37L547 376.56L547.5 375.75L548 375L548.5 374.34L549 373.83L549.5 373.51L550 373.4L550.5 373.51L551 373.83L551.5 374.34L552 375L552.5 375.75L553 376.56L553.5 377.37L554 378.15L554.5 378.86L555 379.48L555.5 380L556 380.43L556.5 380.77L557 381.02L557.5 381.21L558 381.34L558.5 381.44L559 381.5L559.5 381.54L560 381.56L560.5 381.58L561 381.59L561.5 381.59L562 381.6L562.5 381.6L563 381.6" fill="none" stroke="#f25858" stroke-width="0.75"/>
<path d="M530 381.3L530.5 381.24L531 381.17L531.5 381.08L532 380.99L532.5 380.87L533 380.74L533.5 380.58L534 380.4L534.5 380.18L535 379.94L535.5 379.65L536 379.33L536.5 378.95L537 378.52L537.5 378.03L538 377.47L538.5 376.83L539 376.11L539.5 375.31L540 374.4L540.5 373.38L541 372.25L541.5 370.99L542 369.61L542.5 368.08L543 366.4L543.5 364.57L544 362.59L544.5 360.45L545 358.16L545.5 355.71L546 353.11L546.5 350.39L547 347.54L547.5 344.6L548 341.59L548.5 338.56L549 335.54L549.5 332.6L550 329.8L550.5 327.24L551 325.03L551.5 323.4L552 323.17L552.5 324.65L553 326.76L553.5 329.26L554 332.02L554.5 334.94L555 337.95L555.5 340.99L556 344L556.5 346.96L557 349.83L557.5 352.58L558 355.2L558.5 357.68L559 360.01L559.5 362.18L560 364.19L560.5 366.05L561 367.75L561.5 369.31L562 370.73L562.5 372.01L563 373.17L563.5 374.2L564 375.13L564.5 375.96L565 376.7L565.5 377.35L566 377.92L566.5 378.43L567 378.87L567.5 379.25L568 379.59L568.5 379.88L569 380.14L569.5 380.36L570 380.55L570.5 380.71L571 380.85L571.5 380.96L572 381.07L572.5 381.15L573 381.22L573.5 381.29L574 381.34" fill="none" stroke="#6a6a6a" stroke-width="0.75"/>
<text x="553.2" y="319.3" font-size="7.5" text-anchor="middle" font-weight="normal" fill="#222" stroke="#222">Control</text>
<text x="513.2" y="330.8" font-size="8" text-anchor="middle" font-weight="normal" fill="#ee2a2e" stroke="#ee2a2e">WAY-3x</text>
<line x1="481" y1="393.3" x2="481" y2="294.5" stroke="#000" stroke-width="1.1"/>
<path d="M477.7 297L481 290.5L484.3 297Z" fill="#000" stroke="none" stroke-width="1"/>
<line x1="480.5" y1="393.3" x2="579.5" y2="393.3" stroke="#000" stroke-width="1.1"/>
<path d="M577 390L583.5 393.3L577 396.6Z" fill="#000" stroke="none" stroke-width="1"/>
<text x="475.3" y="325" font-size="9.6" text-anchor="middle" font-weight="normal" fill="#262626" stroke="#262626" transform="rotate(-90 475.3 325)">Count</text>
<text x="536.3" y="406.8" font-size="9.6" text-anchor="middle" fill="#262626" stroke="#262626">H<tspan font-size="6" dy="1.6">2</tspan><tspan dy="-1.6">-DCFDA</tspan></text>
<text x="536.5" y="417.8" font-size="9.6" text-anchor="middle" font-weight="normal" fill="#262626" stroke="#262626">(Intracellular</text>
<text x="536.5" y="428.8" font-size="9.6" text-anchor="middle" font-weight="normal" fill="#262626" stroke="#262626">ROS)</text>
<line x1="652.2" y1="257.3" x2="652.2" y2="390.5" stroke="#000" stroke-width="1.4"/>
<line x1="651.5" y1="389.8" x2="727" y2="389.8" stroke="#000" stroke-width="1.4"/>
<line x1="647.7" y1="389.8" x2="652.2" y2="389.8" stroke="#000" stroke-width="1.2"/>
<text x="645.8" y="393.2" font-size="9.6" text-anchor="end" font-weight="normal" fill="#262626" stroke="#262626">0</text>
<line x1="647.7" y1="346.2" x2="652.2" y2="346.2" stroke="#000" stroke-width="1.2"/>
<text x="645.8" y="349.6" font-size="9.6" text-anchor="end" font-weight="normal" fill="#262626" stroke="#262626">5</text>
<line x1="647.7" y1="302.4" x2="652.2" y2="302.4" stroke="#000" stroke-width="1.2"/>
<text x="645.8" y="305.8" font-size="9.6" text-anchor="end" font-weight="normal" fill="#262626" stroke="#262626">10</text>
<line x1="647.7" y1="258.6" x2="652.2" y2="258.6" stroke="#000" stroke-width="1.2"/>
<text x="645.8" y="262" font-size="9.6" text-anchor="end" font-weight="normal" fill="#262626" stroke="#262626">15</text>
<line x1="671.35" y1="294.3" x2="671.35" y2="279.3" stroke="#000" stroke-width="1.2"/>
<line x1="665.35" y1="279.3" x2="677.35" y2="279.3" stroke="#000" stroke-width="1.2"/>
<rect x="658.95" y="294.95" width="24.8" height="94.85" fill="#fff" stroke="#000" stroke-width="1.3"/>
<line x1="708.05" y1="336.2" x2="708.05" y2="329" stroke="#000" stroke-width="1.2"/>
<line x1="702.05" y1="329" x2="714.05" y2="329" stroke="#000" stroke-width="1.2"/>
<rect x="695.45" y="336.85" width="25.2" height="52.95" fill="#ff0000" stroke="#000" stroke-width="1.3"/>
<line x1="670.8" y1="389.8" x2="670.8" y2="394.3" stroke="#000" stroke-width="1.2"/>
<line x1="707.5" y1="389.8" x2="707.5" y2="394.3" stroke="#000" stroke-width="1.2"/>
<path d="M671 275.9V270.9H708.4V275.9" fill="none" stroke="#000" stroke-width="1.35"/>
<text x="690.4" y="271.5" font-size="13" text-anchor="middle" font-weight="normal" fill="#262626" stroke="#262626">**</text>
<text x="670.7" y="401" font-size="9.3" text-anchor="end" font-weight="normal" fill="#262626" stroke="#262626" transform="rotate(-45 670.7 401)">Control</text>
<text x="707.7" y="403.5" font-size="9.6" text-anchor="end" font-weight="normal" fill="#262626" stroke="#262626" transform="rotate(-45 707.7 403.5)" letter-spacing="0.12">WAY-3x</text>
<text x="627" y="324.5" font-size="9.4" text-anchor="middle" fill="#262626" stroke="#262626" transform="rotate(-90 627 324.5)">Median (H2DCFDA) 10<tspan font-size="6" dy="-3">5</tspan></text>
</svg>
</body></html>
